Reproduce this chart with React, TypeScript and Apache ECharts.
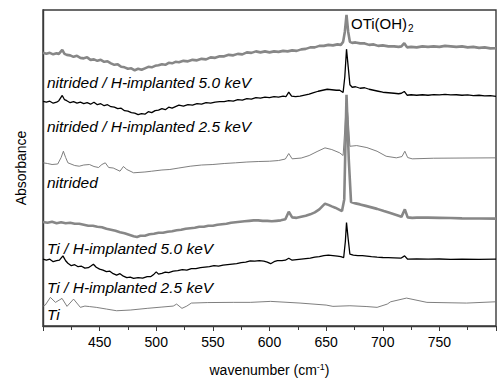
import React, { useEffect, useRef } from "react";
import * as echarts from "echarts";

// wavenumber (cm-1) vs absorbance (arbitrary, offset units)
const nitH50: number[][] = [
  [400,274],[403,273],[406,274],[409,272.5],[412,273.5],[414,273],[417,277],[419,273],[421,272],[424,271.5],
  [427,270],[430,271],[433,269],[436,268.5],[439,269.5],[442,267],[445,267.5],[448,266],[451,267],[454,265],
  [457,265.5],[460,263.5],[463,262],[466,262.5],[469,260],[472,259.5],[475,258],[478,258.5],[481,256.5],[484,258],
  [487,257],[490,258.5],[493,260],[496,259.5],[499,261],[502,261.5],[505,262.5],[508,262],[511,264],[514,263.5],
  [517,265],[520,264.5],[524,266],[528,265.5],[532,267],[536,266.5],[540,268],[544,267.5],[548,269.5],[552,269],
  [556,270.5],[560,270.5],[564,272],[568,271.5],[572,273],[576,272.5],[580,274.5],[584,274],[588,275.5],[592,274.5],
  [596,275.5],[600,274.5],[604,275.5],[608,275],[612,276],[616,275.5],[620,276.5],[624,276],[628,277.5],[632,278],
  [636,279.5],[640,279.5],[644,281],[648,281],[652,282],[656,281.5],[660,282.5],[663,282],[665,285],[666.5,295],
  [668,312],[669.5,295],[671,285],[673,284],[676,284.5],[680,283.5],[684,283.5],[688,282],[692,282.5],[696,281],
  [700,281.5],[705,280.5],[710,280.5],[714,280],[716.5,280.5],[719,283.7],[721.5,279.5],[725,280],[730,279.5],[735,280.5],
  [740,280],[745,280.5],[750,280],[755,281],[760,280.5],[765,280],[770,280.5],[775,279.5],[780,280],[785,279],
  [790,279.5],[795,278.5],[800,278.7]
];
const nitH25: number[][] = [
  [400,225.3],[403,224.5],[406,225.5],[409,223.5],[412,224.5],[414,226],[417,231.3],[419,227],[421,226],[424,224],
  [427,225],[430,223.5],[433,224.5],[436,223],[439,224],[442,222.5],[445,224.5],[448,222],[451,223],[454,221],
  [457,222],[460,220],[463,219.5],[466,218],[469,218.5],[472,216],[475,215.5],[478,214],[481,213.5],[484,212],
  [487,213],[490,212.5],[493,215],[496,214],[499,216],[502,216.5],[505,218],[508,217],[511,219.5],[514,218.5],
  [517,220],[520,221.5],[524,220.5],[528,222],[532,221.5],[536,223],[540,222.5],[544,224],[548,223.5],[552,224.5],
  [556,225],[560,225],[564,226],[568,225.5],[572,227],[576,226.5],[580,228],[584,227.5],[588,229],[592,228.5],
  [596,229.5],[600,229],[604,230],[608,229.5],[612,230.5],[614.5,230],[617,234.7],[619.5,230.5],[623,230],[627,230.5],
  [631,231.5],[635,232.5],[639,234],[643,235.5],[647,236.5],[651,237.5],[655,237],[659,236.5],[662,236.5],[665,234.3],
  [666.5,250],[668,277.7],[669.5,260],[671,242],[673,239.5],[676,240],[680,238.5],[684,239],[688,237.5],[692,236.5],
  [696,235.5],[700,234.5],[705,234],[710,233.5],[714,233],[716.5,233.5],[719,235.3],[721.5,231.5],[725,232],[730,231.5],
  [735,232],[740,231.5],[745,232.2],[750,231.8],[755,232.3],[760,231.8],[765,232],[770,231.5],[775,231.8],[780,231.2],
  [785,231.5],[790,230.8],[795,231],[800,230.3]
];
const nitrided: number[][] = [
  [400,163.7],[404,163],[408,162],[413,162.5],[416,169],[418,175.3],[420,169],[422,163.7],[428,161],[432,160.3],
  [436,161.5],[441,162],[445,160],[449,159],[452,162],[455,163.7],[458,159],[462,158.5],[468,155.3],[471,160],
  [474,157],[480,153.7],[490,154.5],[496,155.3],[505,156.5],[512,157],[520,158.5],[530,160.3],[540,161.5],[550,162],
  [560,163],[570,163.7],[580,164.5],[590,165],[600,165.3],[608,166],[614,167.5],[617,173],[620,167.7],[628,168.5],
  [635,171],[642,175],[649,178.7],[655,177],[662,173.7],[665,171],[667,207],[668,227],[669.5,207],[671,180.3],
  [677,181],[686,179],[695,175.3],[703,170.3],[712,168.7],[717,170],[719.5,175.3],[722,169],[726,167.7],[745,168.3],
  [770,168.5],[800,168.7]
];
const tiH50: number[][] = [
  [400,104.3],[404,103.5],[408,104.5],[412,103],[416,104],[420,103],[424,103.5],[428,102.5],[432,102.5],[436,101.5],
  [440,100.5],[444,100.5],[448,99.5],[452,99],[456,97.5],[460,96.5],[464,95.5],[468,94],[472,93],[476,91.5],
  [480,90],[483,89.3],[486,90.5],[490,90.5],[494,92],[498,92.5],[502,93.5],[506,93.5],[510,94.5],[514,95],
  [518,96],[522,96.5],[526,97.5],[530,98],[534,98.5],[538,99.5],[542,99.5],[546,100.5],[550,100.5],[554,101.5],
  [558,102],[562,102.5],[566,103.5],[570,104],[574,104.5],[578,105],[582,105.5],[586,106],[590,106],[594,105.5],
  [598,105.5],[602,105],[606,105.5],[610,106],[614,107],[617,114.7],[620,109],[624,108.5],[628,109.5],[632,110.5],
  [636,112],[640,114],[644,117],[647,120.5],[649,122.7],[652,121.5],[655,120],[658,118.7],[661,117],[664,115.3],
  [666,127],[668,232],[670,167],[672,124.3],[676,123],[680,122],[685,120.5],[690,119],[695,117.5],[701,115.3],
  [706,113.5],[710,112],[714,110.5],[716.5,109.5],[719.5,117],[722,109],[726,108.5],[730,108.7],[740,108.7],[750,108.5],
  [760,108.3],[770,108],[785,107.8],[800,107.7]
];
const tiH25: number[][] = [
  [400,67],[403,66],[406,67],[409,64.5],[412,65.5],[414.5,66],[417.6,70.3],[420,65.5],[422,63],[425,60.5],
  [428,61.5],[431,59.5],[434,60],[437,58],[440,58.5],[442,60],[444.5,62],[447,59],[450,57],[453,56],
  [456,54.5],[459,55],[462,52.5],[465,51],[468,52.5],[471,50],[474,48.5],[477,49],[480,47.7],[484,48.5],
  [488,48],[492,49.5],[495,49.5],[498,52],[500,54.3],[502,52],[505,52.7],[508,54],[511,53.5],[515,55],
  [519,55.5],[523,56.5],[527,56],[531,57.5],[535,57.5],[539,58.5],[543,59],[547,59.5],[551,60.5],[555,60],
  [559,61],[563,61.5],[567,62],[571,62.5],[575,63.5],[579,64],[583,65.3],[587,65],[591,65.5],[595,65],
  [598,64],[601,62.5],[604,64.5],[607,65.5],[611,65.5],[614,66],[617,68],[620,66],[624,66.5],[628,67],
  [632,67.5],[636,68],[640,69],[644,69.5],[648,70.5],[652,71],[656,70.5],[660,70],[663,69.5],[665.5,68.7],
  [667,85],[668,103.7],[669.5,87],[671,72],[674,71],[678,70.5],[682,70.5],[686,70],[690,69.5],[695,69],
  [700,68.7],[705,68.5],[710,68.3],[716,68],[719.3,70.3],[722,67],[730,67.2],[740,67],[750,67.2],[760,66.8],
  [770,67],[785,66.8],[800,67]
];
const ti: number[][] = [
  [400,20],[402,21],[406.5,28.7],[411,23.7],[416.8,27.7],[421.2,19.7],[427,27],[433,18.7],[437,20],[441,19.5],
  [447,18.7],[456,17],[465,15.3],[477,16],[492,17.7],[505,19],[515,20],[518,22],[522.7,17.7],[527,20],
  [531,23],[545,23.5],[568,23.7],[583,23.7],[601,24.7],[627,23],[650,21],[656,19.7],[671,20.3],[686,19.5],
  [695,18.7],[704,22],[707,24.3],[721,28],[739,23.7],[774,23],[800,24.3]
];

const sampleLabels = [
  "nitrided / H-implanted 5.0 keV",
  "nitrided / H-implanted 2.5 keV",
  "nitrided",
  "Ti / H-implanted 5.0 keV",
  "Ti / H-implanted 2.5 keV",
  "Ti",
];
const labelY = [82, 126.7, 182.7, 248.3, 287.3, 314];

const FONT = '"Liberation Sans", Arial, Helvetica, sans-serif';
const AX = "#3a3a3a";

export default function App() {
  const ref = useRef<HTMLDivElement>(null);
  useEffect(() => {
    if (!ref.current) return;
    const chart = echarts.init(ref.current, undefined, { renderer: "svg" });
    const thickGray = { color: "#878787", width: 2.6 };
    const black = { color: "#000000", width: 1.3 };
    const thinGray = { color: "#707070", width: 0.9 };
    const mk = (name: string, data: number[][], ls: any) => ({
      name,
      type: "line",
      data,
      showSymbol: false,
      symbol: "none",
      lineStyle: ls,
      silent: true,
    });
    chart.setOption({
      animation: false,
      backgroundColor: "#ffffff",
      textStyle: { fontFamily: FONT },
      grid: { left: 43, top: 10, width: 453, height: 317, show: true, borderColor: AX, borderWidth: 1.4, backgroundColor: "transparent" },
      xAxis: {
        type: "value",
        min: 400,
        max: 800,
        interval: 50,
        name: "wavenumber (cm{sup|-1})",
        nameLocation: "middle",
        nameGap: 36,
        nameTextStyle: {
          fontSize: 14,
          fontFamily: FONT,
          color: "#000",
          lineHeight: 16,
          rich: { sup: { fontSize: 9, fontFamily: FONT, color: "#000", verticalAlign: "top", lineHeight: 10 } },
        },
        axisLine: { show: true, lineStyle: { color: AX, width: 1.4 } },
        axisTick: { show: true, length: 5, inside: false, lineStyle: { color: AX, width: 1 } },
        minorTick: { show: true, splitNumber: 2, length: 4, lineStyle: { color: AX, width: 1 } },
        splitLine: { show: false },
        axisLabel: { fontSize: 14, color: "#000", margin: 9, fontFamily: FONT, showMinLabel: false, showMaxLabel: false },
      },
      yAxis: {
        type: "value",
        min: 0,
        max: 317,
        name: "Absorbance",
        nameLocation: "middle",
        nameGap: 15,
        nameTextStyle: { fontSize: 14, fontFamily: FONT, color: "#000" },
        axisLine: { show: true, lineStyle: { color: AX, width: 1.4 } },
        axisTick: { show: false },
        axisLabel: { show: false },
        splitLine: { show: false },
      },
      series: [
        mk("Ti", ti, thinGray),
        mk("Ti / H 2.5", tiH25, black),
        mk("nitrided", nitrided, thinGray),
        mk("nitrided / H 2.5", nitH25, black),
        mk("Ti / H 5.0", tiH50, thickGray),
        mk("nitrided / H 5.0", nitH50, thickGray),
      ],
      graphic: [
        ...sampleLabels.map((t, i) => ({
          type: "text",
          x: 47,
          y: labelY[i],
          silent: true,
          style: { text: t, fontSize: 15.5, fontStyle: "italic", fontFamily: FONT, fill: "#000", verticalAlign: "middle", align: "left" },
        })),
        {
          type: "text",
          x: 351,
          y: 23.3,
          silent: true,
          style: { text: "OTi(OH)", fontSize: 15, fontFamily: FONT, fill: "#000", verticalAlign: "middle", align: "left" },
        },
        {
          type: "text",
          x: 408,
          y: 28.5,
          silent: true,
          style: { text: "2", fontSize: 10, fontFamily: FONT, fill: "#000", verticalAlign: "middle", align: "left" },
        },
      ],
    });
    return () => chart.dispose();
  }, []);
  return <div ref={ref} style={{ position: "absolute", left: 0, top: 0, width: 497, height: 383 }} />;
}
